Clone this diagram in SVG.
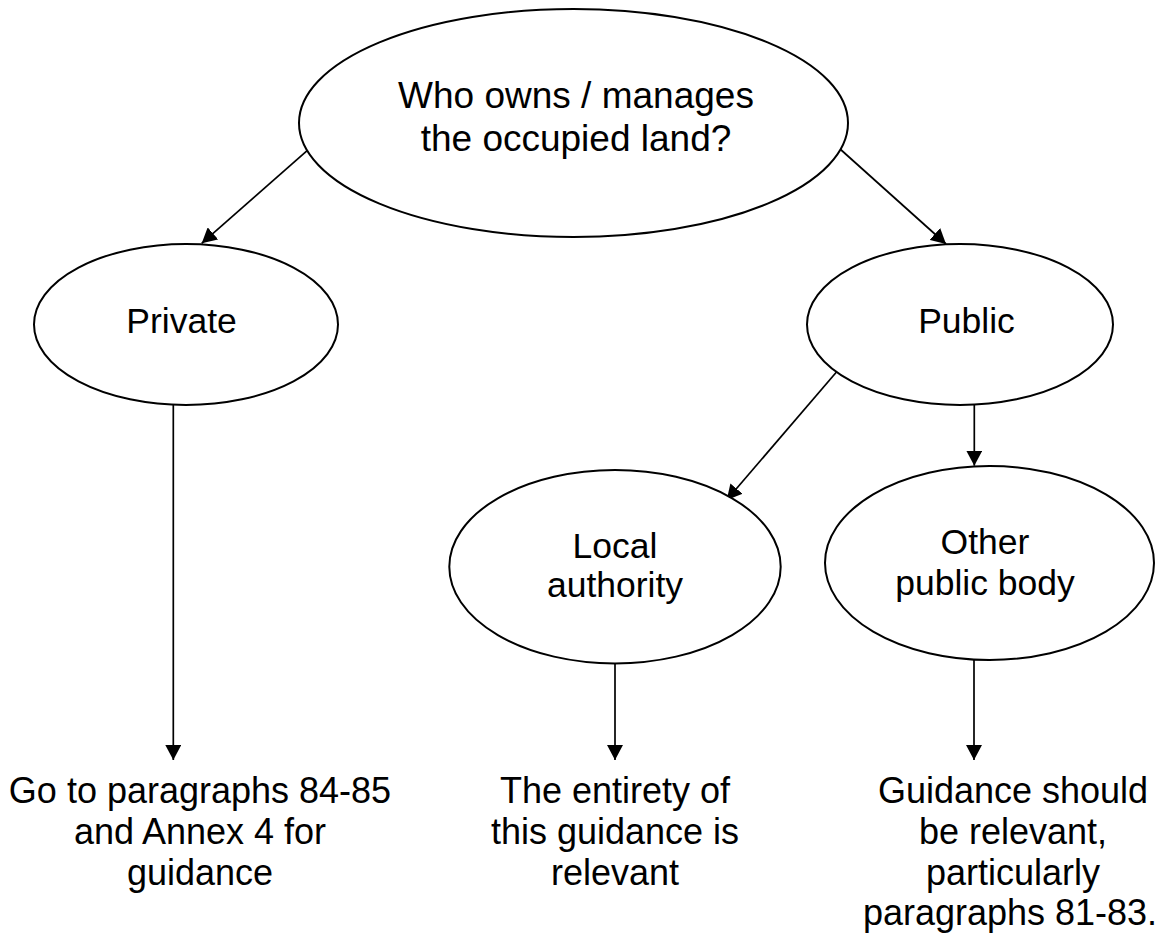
<svg xmlns="http://www.w3.org/2000/svg" width="1165" height="934" viewBox="0 0 1165 934">
<style>
.node{fill:#fff;stroke:#000;stroke-width:2}
.t{font-family:"Liberation Sans",Arial,sans-serif;fill:#000;text-anchor:middle}
.big{font-size:37px}
.mid{font-size:35.5px}
.low{font-size:36px}
.c{stroke:#000;stroke-width:1.7;fill:none;marker-end:url(#ah)}
</style>
<defs>
<marker id="ah" markerUnits="userSpaceOnUse" markerWidth="16" markerHeight="16" refX="15" refY="8" orient="auto" viewBox="0 0 16 16">
<path d="M0,0 L15,8 L0,16 z" fill="#000"/>
</marker>
</defs>
<rect width="1165" height="934" fill="#fff"/>
<g id="connectors">
<line class="c" x1="311.7" y1="146.7" x2="201.7" y2="243.3"/>
<line class="c" x1="836.7" y1="146" x2="946" y2="244"/>
<line class="c" x1="836.7" y1="371.7" x2="726.7" y2="500"/>
<line class="c" x1="974.3" y1="405" x2="974.3" y2="465.7"/>
<line class="c" x1="173.3" y1="405" x2="173.3" y2="760"/>
<line class="c" x1="615" y1="663" x2="615" y2="760"/>
<line class="c" x1="974" y1="660" x2="974" y2="760"/>
</g>
<g id="node-question">
<ellipse class="node" cx="573.5" cy="123" rx="274.5" ry="114"/>
<text class="t big" x="576" y="108">Who owns / manages</text>
<text class="t big" x="576" y="151">the occupied land?</text>
</g>
<g id="node-private">
<ellipse class="node" cx="186" cy="324.5" rx="152" ry="80.5"/>
<text class="t mid" x="181.5" y="333">Private</text>
</g>
<g id="node-public">
<ellipse class="node" cx="960" cy="324.5" rx="153" ry="80.5"/>
<text class="t mid" x="966.5" y="333">Public</text>
</g>
<g id="node-local">
<ellipse class="node" cx="615" cy="566.7" rx="165.7" ry="96.7"/>
<text class="t mid" x="615" y="558">Local</text>
<text class="t mid" x="615" y="597">authority</text>
</g>
<g id="node-other">
<ellipse class="node" cx="989.5" cy="563" rx="164.5" ry="97"/>
<text class="t mid" x="985" y="554">Other</text>
<text class="t mid" x="985" y="595">public body</text>
</g>
<g id="node-private-result">
<text class="t low" x="200" y="802.5">Go to paragraphs 84-85</text>
<text class="t low" x="200" y="843.5">and Annex 4 for</text>
<text class="t low" x="200" y="884.5">guidance</text>
</g>
<g id="node-local-result">
<text class="t low" x="615" y="802.5">The entirety of</text>
<text class="t low" x="615" y="843.5">this guidance is</text>
<text class="t low" x="615" y="884.5">relevant</text>
</g>
<g id="node-other-result">
<text class="t low" x="1013" y="802.5">Guidance should</text>
<text class="t low" x="1013" y="843.5">be relevant,</text>
<text class="t low" x="1013" y="884.5">particularly</text>
<text class="t low" x="1010" y="925">paragraphs 81-83.</text>
</g>
</svg>
